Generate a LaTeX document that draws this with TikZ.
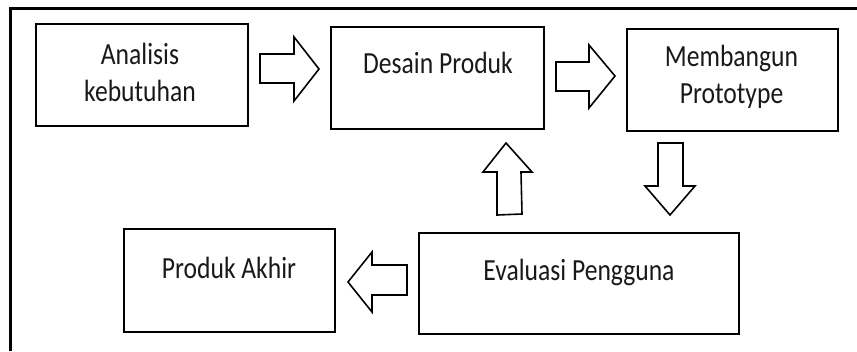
\documentclass[tikz,border=0pt]{standalone}
\usepackage{fontspec}
\setmainfont{Carlito}
\usepackage{graphicx}
\begin{document}
\begin{tikzpicture}[x=1pt,y=-1pt,
  stepbox/.style={draw=black,line width=2.2pt,rectangle,inner sep=0pt,anchor=north west},
  lbl/.style={anchor=base,inner sep=0pt,font=\fontsize{25.6}{31}\selectfont,text=black!90},
  blockarrow/.style={draw=black,line width=1.6pt,fill=white,line join=miter}]
\useasboundingbox (0,0) rectangle (857,351);
% outer frame (top and left only)
\draw[line width=3pt] (10.5,351) -- (10.5,8.5) -- (857,8.5);
% boxes
\node[stepbox,minimum width=212pt,minimum height=102pt] (b1) at (35,23) {};
\node[stepbox,minimum width=213pt,minimum height=102pt] (b2) at (330,26) {};
\node[stepbox,minimum width=211pt,minimum height=102pt] (b3) at (626,28) {};
\node[stepbox,minimum width=211pt,minimum height=103pt] (b4) at (123,228) {};
\node[stepbox,minimum width=320pt,minimum height=101pt] (b5) at (418,232) {};
% texts
\node[lbl] (t1a) at (140,64) {\scalebox{1}[1.2]{Analisis}};
\node[lbl] (t1b) at (140,101) {\scalebox{1}[1.2]{kebutuhan}};
\node[lbl] (t2) at (438,73) {\scalebox{1}[1.2]{Desain Produk}};
\node[lbl] (t3a) at (731.5,66) {\scalebox{1}[1.2]{Membangun}};
\node[lbl] (t3b) at (731.5,103) {\scalebox{1}[1.2]{Prototype}};
\node[lbl] (t4) at (229,278) {\scalebox{1}[1.2]{Produk Akhir}};
\node[lbl] (t5) at (579,280) {\scalebox{1}[1.2]{Evaluasi Pengguna}};
% block arrows
\draw[blockarrow] (260,54) -- (294,54) -- (294,37) -- (319,69) -- (294,101) -- (294,83) -- (260,83) -- cycle;
\draw[blockarrow] (556,62) -- (589,62) -- (589,45) -- (615,76) -- (589,108) -- (589,91) -- (556,91) -- cycle;
\draw[blockarrow] (658,143) -- (683,143) -- (683,186) -- (695,186) -- (670,215) -- (645,186) -- (658,186) -- cycle;
\draw[blockarrow] (497,215) -- (522,214) -- (521,172) -- (532,172) -- (506,143) -- (483,172) -- (497,172) -- cycle;
\draw[blockarrow] (407,265) -- (372,265) -- (372,252) -- (348,282) -- (372,312) -- (372,295) -- (407,295) -- cycle;
\end{tikzpicture}
\end{document}
